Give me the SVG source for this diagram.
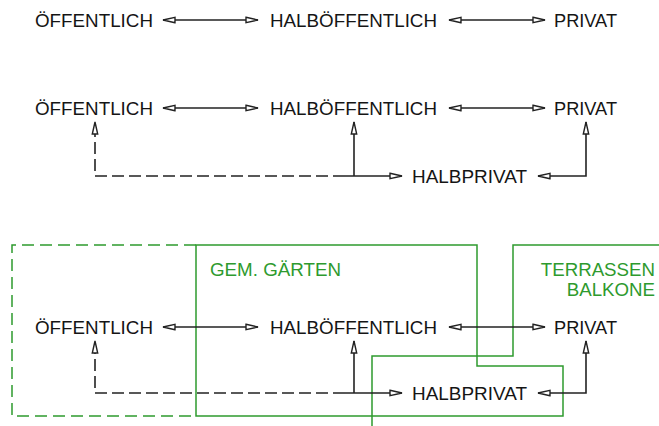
<svg xmlns="http://www.w3.org/2000/svg" width="659" height="426" viewBox="0 0 659 426">
<defs>
<style>
.t{font-family:"Liberation Sans",Arial,sans-serif;font-size:18.7px;fill:#151515}
.g{font-family:"Liberation Sans",Arial,sans-serif;font-size:18.7px;fill:#2e9a2e}
.c{fill:none;stroke:#222;stroke-width:1.6}
.d{stroke-dasharray:12 5}
.z{fill:none;stroke:#2e9a2e;stroke-width:1.5}
</style>
<marker id="ah" viewBox="0 0 14 8" markerWidth="14" markerHeight="8" refX="13" refY="4" orient="auto-start-reverse" markerUnits="userSpaceOnUse">
<path d="M1,1.3 L13,4 L1,6.7 Z" fill="#fff" stroke="#222" stroke-width="1.4" stroke-linejoin="miter"/>
</marker>
</defs>
<rect width="659" height="426" fill="#fff"/>

<g id="zones">
<path class="z" d="M196,245 H12 V416 H196" stroke-dasharray="12 6"/>
<path class="z" d="M196,245 H477 V366 H563 V416 H196 Z"/>
<path class="z" d="M372,430 V356 H513 V245 H662"/>
<text class="g" x="210" y="276" textLength="131" lengthAdjust="spacingAndGlyphs">GEM. GÄRTEN</text>
<text class="g" x="655" y="276" text-anchor="end">TERRASSEN</text>
<text class="g" x="655" y="296" text-anchor="end">BALKONE</text>
</g>

<g id="connectors">
<path class="c" d="M163,20 H258" marker-start="url(#ah)" marker-end="url(#ah)"/>
<path class="c" d="M449,20 H545" marker-start="url(#ah)" marker-end="url(#ah)"/>

<path class="c" d="M163,108 H258" marker-start="url(#ah)" marker-end="url(#ah)"/>
<path class="c" d="M449,108 H545" marker-start="url(#ah)" marker-end="url(#ah)"/>
<path class="c d" d="M345,176 H95 V122" marker-end="url(#ah)"/>
<path class="c" d="M345,176 H402" marker-end="url(#ah)"/>
<path class="c" d="M354,176 V122" marker-end="url(#ah)"/>
<path class="c" d="M538,176 H586 V122" marker-start="url(#ah)" marker-end="url(#ah)"/>

<path class="c" d="M163,327 H258" marker-start="url(#ah)" marker-end="url(#ah)"/>
<path class="c" d="M449,327 H545" marker-start="url(#ah)" marker-end="url(#ah)"/>
<path class="c d" d="M345,393 H95 V341" marker-end="url(#ah)"/>
<path class="c" d="M345,393 H402" marker-end="url(#ah)"/>
<path class="c" d="M354,393 V341" marker-end="url(#ah)"/>
<path class="c" d="M538,393 H586 V341" marker-start="url(#ah)" marker-end="url(#ah)"/>
</g>

<g id="n1-oeffentlich"><text class="t" x="35" y="27" textLength="118" lengthAdjust="spacingAndGlyphs">ÖFFENTLICH</text></g>
<g id="n1-halboeffentlich"><text class="t" x="270" y="27" textLength="167" lengthAdjust="spacingAndGlyphs">HALBÖFFENTLICH</text></g>
<g id="n1-privat"><text class="t" x="554" y="27" textLength="63" lengthAdjust="spacingAndGlyphs">PRIVAT</text></g>

<g id="n2-oeffentlich"><text class="t" x="35" y="115" textLength="118" lengthAdjust="spacingAndGlyphs">ÖFFENTLICH</text></g>
<g id="n2-halboeffentlich"><text class="t" x="270" y="115" textLength="167" lengthAdjust="spacingAndGlyphs">HALBÖFFENTLICH</text></g>
<g id="n2-privat"><text class="t" x="554" y="115" textLength="63" lengthAdjust="spacingAndGlyphs">PRIVAT</text></g>
<g id="n2-halbprivat"><text class="t" x="412" y="183" textLength="115" lengthAdjust="spacingAndGlyphs">HALBPRIVAT</text></g>

<g id="n3-oeffentlich"><text class="t" x="35" y="334" textLength="118" lengthAdjust="spacingAndGlyphs">ÖFFENTLICH</text></g>
<g id="n3-halboeffentlich"><text class="t" x="270" y="334" textLength="167" lengthAdjust="spacingAndGlyphs">HALBÖFFENTLICH</text></g>
<g id="n3-privat"><text class="t" x="554" y="334" textLength="63" lengthAdjust="spacingAndGlyphs">PRIVAT</text></g>
<g id="n3-halbprivat"><text class="t" x="412" y="400" textLength="115" lengthAdjust="spacingAndGlyphs">HALBPRIVAT</text></g>
</svg>
